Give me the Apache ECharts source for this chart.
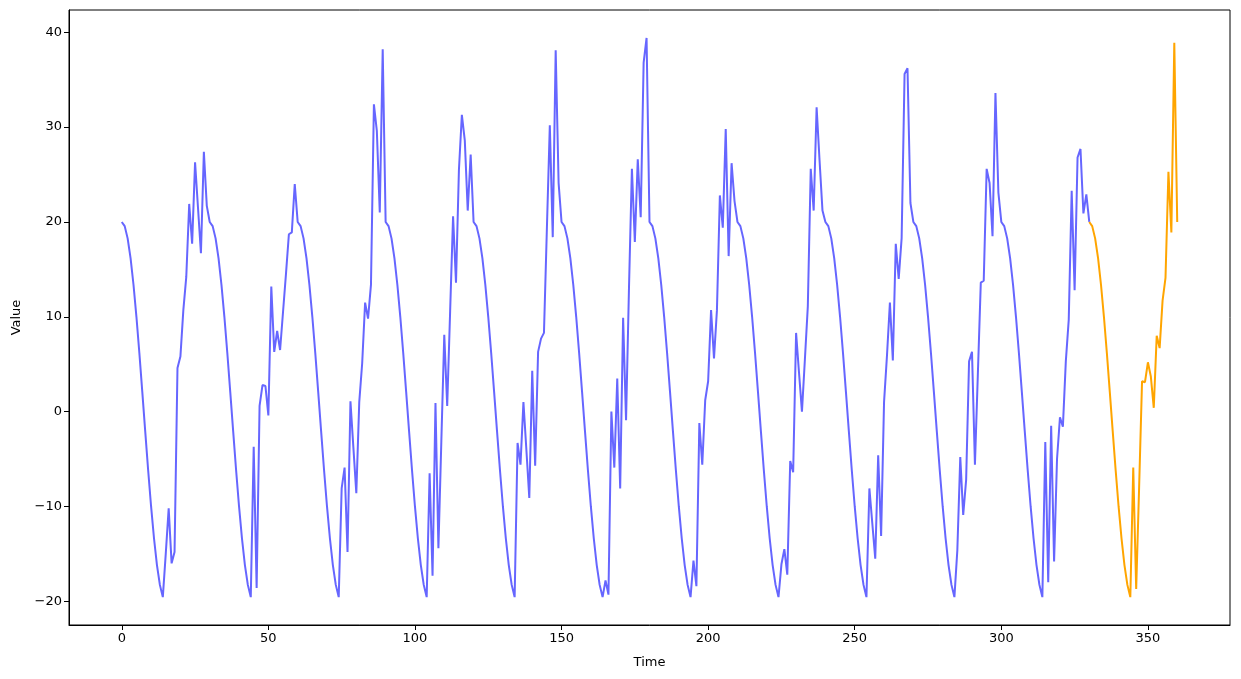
<!DOCTYPE html>
<html>
<head>
<meta charset="utf-8">
<script src="https://cdn.jsdelivr.net/npm/echarts@6/dist/echarts.min.js"></script>
<style>
html,body{margin:0;padding:0;background:#fff;}
#chart{width:1241px;height:679px;}
</style>
</head>
<body>
<div id="chart"></div>
<script>
// tick labels
const xTicks = [0, 50, 100, 150, 200, 250, 300, 350];
const yTicks = [-20, -10, 0, 10, 20, 30, 40];

// observed series, one array per 30-step cycle
const cycle0 = [20, 19.56, 18.27, 16.18, 13.38, 10, 6.18, 2.09, -2.09, -6.18, -10, -13.38, -16.18, -18.27, -19.56,
  -15.0, -10.2, -16.0, -14.8, 4.6, 5.8, 10.7, 14.2, 21.9, 17.7, 26.3, 21.5, 16.7, 27.4, 21.7];
const cycle1 = [20, 19.56, 18.27, 16.18, 13.38, 10, 6.18, 2.09, -2.09, -6.18, -10, -13.38, -16.18, -18.27, -19.56,
  -3.7, -18.6, 0.6, 2.8, 2.7, -0.4, 13.2, 6.3, 8.5, 6.5, 10.5, 14.5, 18.7, 18.9, 24.0];
const cycle2 = [20, 19.56, 18.27, 16.18, 13.38, 10, 6.18, 2.09, -2.09, -6.18, -10, -13.38, -16.18, -18.27, -19.56,
  -8.1, -5.9, -14.8, 1.1, -3.8, -8.6, 1.0, 5.1, 11.5, 9.8, 13.4, 32.4, 29.6, 21.0, 38.2];
const cycle3 = [20, 19.56, 18.27, 16.18, 13.38, 10, 6.18, 2.09, -2.09, -6.18, -10, -13.38, -16.18, -18.27, -19.56,
  -6.5, -17.3, 0.9, -14.4, -3.1, 8.1, 0.6, 10.6, 20.6, 13.6, 25.5, 31.3, 28.6, 21.2, 27.1];
const cycle4 = [20, 19.56, 18.27, 16.18, 13.38, 10, 6.18, 2.09, -2.09, -6.18, -10, -13.38, -16.18, -18.27, -19.56,
  -3.3, -5.6, 1.0, -4.0, -9.1, 4.3, -5.7, 6.3, 7.7, 8.3, 19.3, 30.2, 18.4, 38.1, 24.1];
const cycle5 = [20, 19.56, 18.27, 16.18, 13.38, 10, 6.18, 2.09, -2.09, -6.18, -10, -13.38, -16.18, -18.27, -19.56,
  -17.8, -19.3, 0.0, -5.9, 3.5, -8.1, 9.9, -0.9, 13.0, 25.6, 17.9, 26.6, 20.5, 36.8, 39.4];
const cycle6 = [20, 19.56, 18.27, 16.18, 13.38, 10, 6.18, 2.09, -2.09, -6.18, -10, -13.38, -16.18, -18.27, -19.56,
  -15.7, -18.4, -1.2, -5.6, 1.2, 3.2, 10.7, 5.6, 10.7, 22.8, 19.4, 29.8, 16.4, 26.2, 22.2];
const cycle7 = [20, 19.56, 18.27, 16.18, 13.38, 10, 6.18, 2.09, -2.09, -6.18, -10, -13.38, -16.18, -18.27, -19.56,
  -16.1, -14.5, -17.2, -5.2, -6.4, 8.3, 4.1, 0.0, 5.5, 11.1, 25.6, 21.2, 32.1, 26.5, 21.2];
const cycle8 = [20, 19.56, 18.27, 16.18, 13.38, 10, 6.18, 2.09, -2.09, -6.18, -10, -13.38, -16.18, -18.27, -19.56,
  -8.1, -11.8, -15.5, -4.6, -13.1, 1.0, 5.9, 11.5, 5.4, 17.7, 14.0, 18.3, 35.6, 36.2, 22.0];
const cycle9 = [20, 19.56, 18.27, 16.18, 13.38, 10, 6.18, 2.09, -2.09, -6.18, -10, -13.38, -16.18, -18.27, -19.56,
  -14.6, -4.8, -10.9, -7.2, 5.3, 6.3, -5.6, 4.0, 13.6, 13.8, 25.6, 24.1, 18.5, 33.6, 23.1];
const cycle10 = [20, 19.56, 18.27, 16.18, 13.38, 10, 6.18, 2.09, -2.09, -6.18, -10, -13.38, -16.18, -18.27, -19.56,
  -3.2, -18.0, -1.5, -15.8, -5.0, -0.6, -1.6, 5.3, 9.7, 23.3, 12.8, 26.8, 27.7, 20.9, 22.9];
const historyEnd = [20];

// forecast segment (orange), starts at t = 330
const forecastStart = 330;
const forecast = [20, 19.56, 18.27, 16.18, 13.38, 10, 6.18, 2.09, -2.09, -6.18, -10, -13.38, -16.18, -18.27, -19.56,
  -5.9, -18.7, -8.0, 3.2, 3.1, 5.2, 3.7, 0.4, 8.0, 6.7, 11.7, 14.1, 25.3, 18.9, 38.9, 20.0];

const history = [].concat(cycle0, cycle1, cycle2, cycle3, cycle4, cycle5, cycle6, cycle7, cycle8, cycle9, cycle10, historyEnd);

const chart = echarts.init(document.getElementById('chart'), null, {renderer: 'canvas'});
const font = 'DejaVu Sans';
const fmt = v => String(v).replace('-', '\u2212');
chart.setOption({
  animation: false,
  backgroundColor: '#ffffff',
  textStyle: {fontFamily: font},
  grid: {left: 69, right: 11, top: 10, bottom: 54, show: true, borderColor: '#000', borderWidth: 1, backgroundColor: 'transparent'},
  xAxis: {
    type: 'value', min: -18, max: 378,
    name: 'Time', nameLocation: 'middle', nameGap: 31,
    nameTextStyle: {color: '#000', fontSize: 13, fontFamily: font},
    axisLine: {show: true, onZero: false, lineStyle: {color: '#000', width: 1}},
    axisTick: {show: true, length: 5, inside: false, lineStyle: {color: '#000'}, customValues: xTicks},
    axisLabel: {color: '#000', fontSize: 13, fontFamily: font, margin: 7, customValues: xTicks, formatter: fmt},
    splitLine: {show: false}
  },
  yAxis: {
    type: 'value', min: -22.5, max: 42.35,
    name: 'Value', nameLocation: 'middle', nameGap: 46, nameRotate: 90,
    nameTextStyle: {color: '#000', fontSize: 13, fontFamily: font},
    axisLine: {show: true, onZero: false, lineStyle: {color: '#000', width: 1}},
    axisTick: {show: true, length: 5, inside: false, lineStyle: {color: '#000'}, customValues: yTicks},
    axisLabel: {color: '#000', fontSize: 13, fontFamily: font, margin: 7, customValues: yTicks, formatter: fmt},
    splitLine: {show: false}
  },
  series: [
    {
      type: 'line', showSymbol: false, symbol: 'none',
      data: history.map((v, i) => [i, v]),
      lineStyle: {color: '#6666ff', width: 2},
      itemStyle: {color: '#6666ff'}
    },
    {
      type: 'line', showSymbol: false, symbol: 'none',
      data: forecast.map((v, i) => [forecastStart + i, v]),
      lineStyle: {color: '#ffa500', width: 2},
      itemStyle: {color: '#ffa500'}
    }
  ]
});
</script>
</body>
</html>
